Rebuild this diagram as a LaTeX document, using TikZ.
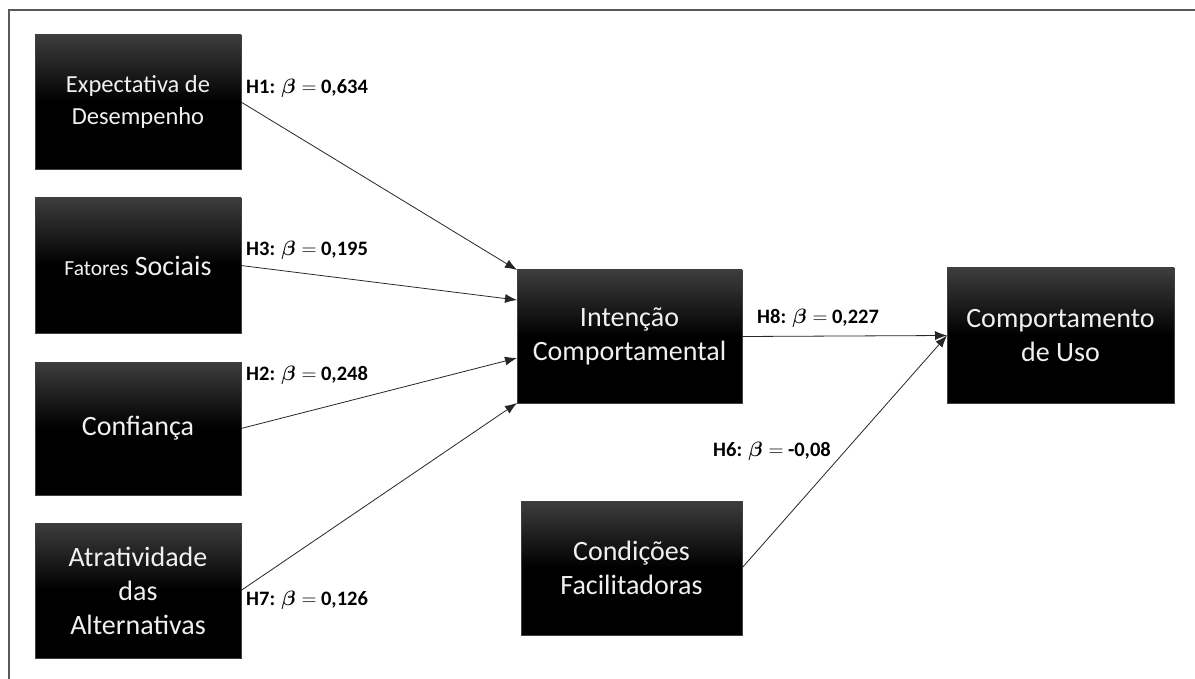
\documentclass[tikz,border=0pt]{standalone}
\usepackage{fontspec}
\setmainfont{Carlito}
\usepackage{bm}
\usetikzlibrary{arrows.meta}
\begin{document}
\begin{tikzpicture}[x=1pt,y=-1pt,
  construct/.style={draw=black!75, line width=0.6pt, inner sep=0pt, outer sep=0pt,
    top color=black!76, bottom color=black, middle color=black,
    text=white!94!black, align=center, font=\fontsize{28}{34}\selectfont},
  path/.style={draw=black!85, line width=0.8pt, -{Latex[length=12pt,width=9pt]}},
  coef/.style={anchor=west, inner sep=0pt, font=\bfseries\fontsize{20.5}{22}\selectfont}]
  % canvas and frame
  \useasboundingbox[fill=white] (0,0) rectangle (1195,679);
  \draw[black!65, line width=1.3pt] (9,679) -- (9,10) -- (1195,10);

  % constructs
  \node[construct, minimum width=206pt, minimum height=134pt,
        font=\fontsize{24.5}{32}\selectfont] (exp) at (138,102) {Expectativa de\\Desempenho};
  \node[construct, minimum width=206pt, minimum height=135pt] (soc) at (138,265.5) {{\fontsize{21.5}{24}\selectfont Fatores} Sociais};
  \node[construct, minimum width=206pt, minimum height=133pt] (conf) at (138,428.5) {Confiança};
  \node[construct, minimum width=206pt, minimum height=135pt] (atr) at (138,590.5) {Atratividade\\das\\Alternativas};
  \node[construct, minimum width=225pt, minimum height=133pt] (int) at (629.5,336.5) {Intenção\\Comportamental};
  \node[construct, minimum width=227pt, minimum height=135pt] (uso) at (1060.5,335.5) {Comportamento\\de Uso};
  \node[construct, minimum width=221pt, minimum height=134pt] (cond) at (631.5,568) {Condições\\Facilitadoras};

  % structural paths
  \draw[path] (exp.east) -- (int.north west);
  \draw[path] (soc.east) -- ([yshift=36.5pt]int.west);
  \draw[path] (conf.east) -- ([yshift=-21.5pt]int.west);
  \draw[path] (atr.east) -- (int.south west);
  \draw[path] (int.east) -- (uso.west);
  \draw[path] (cond.east) -- (uso.west);

  % path coefficients
  \node[coef] (h1) at (246,88) {H1: $\bm{\beta}=$ 0,634};
  \node[coef] (h3) at (246,250) {H3: $\bm{\beta}=$ 0,195};
  \node[coef] (h2) at (246,375) {H2: $\bm{\beta}=$ 0,248};
  \node[coef] (h7) at (246,600) {H7: $\bm{\beta}=$ 0,126};
  \node[coef] (h8) at (757,318) {H8: $\bm{\beta}=$ 0,227};
  \node[coef] (h6) at (713,451) {H6: $\bm{\beta}=$ -0,08};
\end{tikzpicture}
\end{document}
